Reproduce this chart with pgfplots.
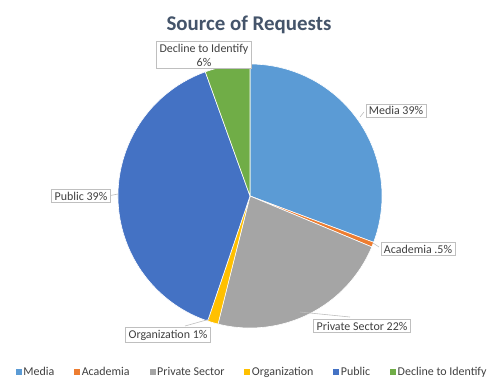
\documentclass[border=0pt]{standalone}
\usepackage{pgfplots}
\pgfplotsset{compat=1.18}
\usepackage{pgfplotstable}
\usepackage{fontspec}
\setmainfont{Carlito}
\definecolor{cMedia}{HTML}{5B9BD5}
\definecolor{cAcad}{HTML}{ED7D31}
\definecolor{cPriv}{HTML}{A5A5A5}
\definecolor{cOrg}{HTML}{FFC000}
\definecolor{cPub}{HTML}{4472C4}
\definecolor{cDec}{HTML}{70AD47}
\definecolor{titlecol}{HTML}{44546A}
\definecolor{txtcol}{HTML}{404040}
\definecolor{boxcol}{HTML}{BFBFBF}

% share of each slice as drawn (percent)
\pgfplotstableread{
name value col
Media 30.7 cMedia
Academia 0.6 cAcad
Private 22.6 cPriv
Organization 1.3 cOrg
Public 39.3 cPub
Decline 5.5 cDec
}\piedata

\pgfplotstablegetrowsof{\piedata}
\pgfmathtruncatemacro\nrows{\pgfplotsretval-1}
\def\total{0}
\pgfplotsforeachungrouped \i in {0,...,\nrows}{%
  \pgfplotstablegetelem{\i}{value}\of\piedata
  \pgfmathsetmacro\total{\total+\pgfplotsretval}%
}
\def\cum{0}
\pgfplotsforeachungrouped \i in {0,...,\nrows}{%
  \pgfplotstablegetelem{\i}{value}\of\piedata
  \pgfmathsetmacro\sa{90-(\cum/\total)*360}%
  \pgfmathsetmacro\cum{\cum+\pgfplotsretval}%
  \pgfmathsetmacro\ea{90-(\cum/\total)*360}%
  \pgfplotstablegetelem{\i}{col}\of\piedata
  \expandafter\xdef\csname pieS\i\endcsname{\sa}%
  \expandafter\xdef\csname pieE\i\endcsname{\ea}%
  \expandafter\xdef\csname pieC\i\endcsname{\pgfplotsretval}%
}

\begin{document}
\begin{tikzpicture}
\begin{axis}[
  hide axis, x=1bp, y=1bp,
  xmin=0, xmax=504, ymin=0, ymax=387,
  clip=false,
  legend columns=6,
  legend style={draw=none, fill=none, at={(axis cs:252,15)}, anchor=center,
    font=\fontsize{12}{14}\selectfont\color{txtcol},
    nodes={inner sep=1.5bp},
    /tikz/every even column/.append style={column sep=18.5bp}},
  legend image code/.code={\fill[#1, draw=none] (0bp,-3bp) rectangle (6bp,3bp);},
]
\path (rel axis cs:0,0) rectangle (rel axis cs:1,1);
\pgfplotsinvokeforeach{0,...,5}{
  \fill[fill=\csname pieC#1\endcsname, draw=white, line width=0.6bp]
    (axis cs:250,191) -- ++(\csname pieS#1\endcsname:132bp)
    arc[start angle=\csname pieS#1\endcsname, end angle=\csname pieE#1\endcsname, radius=132bp] -- cycle;
}
\addlegendimage{fill=cMedia}\addlegendentry{Media}
\addlegendimage{fill=cAcad}\addlegendentry{Academia}
\addlegendimage{fill=cPriv}\addlegendentry{Private Sector}
\addlegendimage{fill=cOrg}\addlegendentry{Organization}
\addlegendimage{fill=cPub}\addlegendentry{Public}
\addlegendimage{fill=cDec}\addlegendentry{Decline to Identify}

% title
\node[anchor=base, font=\fontsize{21}{24}\selectfont\bfseries, text=titlecol] at (axis cs:249,357) {Source of Requests};

% leader lines
\draw[boxcol, line width=0.6bp] (axis cs:373,144) -- (axis cs:379,140);
\draw[boxcol, line width=0.6bp] (axis cs:300,75) -- (axis cs:350,70);
\draw[boxcol, line width=0.6bp] (axis cs:210,68) -- (axis cs:185,61);
\draw[boxcol, line width=0.6bp] (axis cs:108,191) -- (axis cs:118,193);
\draw[boxcol, line width=0.6bp] (axis cs:360,270) -- (axis cs:364,275);

% data labels
\tikzset{lbl/.style={draw=boxcol, fill=white, line width=0.6bp, text=txtcol,
  font=\fontsize{12}{14}\selectfont, inner xsep=3bp, inner ysep=2.5bp, align=center}}
\node[lbl] at (axis cs:204,332) {Decline to Identify\\6\%};
\node[lbl] at (axis cs:396,276.5) {Media 39\%};
\node[lbl] at (axis cs:418,138) {Academia .5\%};
\node[lbl] at (axis cs:362,61) {Private Sector 22\%};
\node[lbl] at (axis cs:168,52) {Organization 1\%};
\node[lbl] at (axis cs:81,191) {Public 39\%};
\end{axis}
\end{tikzpicture}
\end{document}
